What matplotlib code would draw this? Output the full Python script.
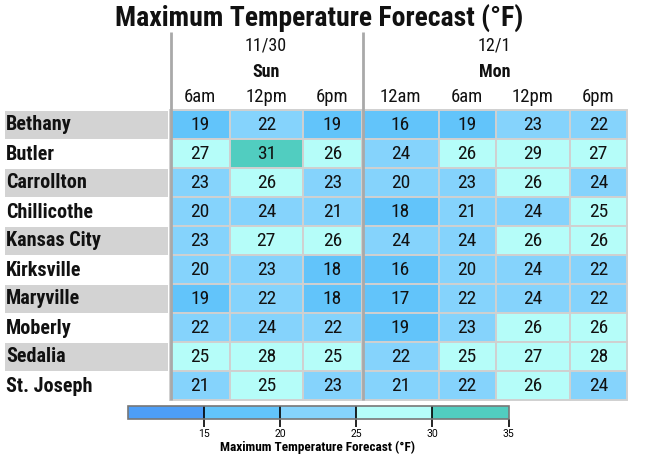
import matplotlib
matplotlib.use("Agg")
import matplotlib.pyplot as plt
from matplotlib.colors import ListedColormap, BoundaryNorm
import matplotlib.patches as mpatches
import matplotlib as mpl
import numpy as np

# ---------------- data ----------------
cities = ["Bethany", "Butler", "Carrollton", "Chillicothe", "Kansas City",
          "Kirksville", "Maryville", "Moberly", "Sedalia", "St. Joseph"]
dates = ["11/30", "12/1"]
days = ["Sun", "Mon"]
day_cols = [3, 4]  # number of time columns per day
times = ["6am", "12pm", "6pm", "12am", "6am", "12pm", "6pm"]
temps = [
    [19, 22, 19, 16, 19, 23, 22],
    [27, 31, 26, 24, 26, 29, 27],
    [23, 26, 23, 20, 23, 26, 24],
    [20, 24, 21, 18, 21, 24, 25],
    [23, 27, 26, 24, 24, 26, 26],
    [20, 23, 18, 16, 20, 24, 22],
    [19, 22, 18, 17, 22, 24, 22],
    [22, 24, 22, 19, 23, 26, 26],
    [25, 28, 25, 22, 25, 27, 28],
    [21, 25, 23, 21, 22, 26, 24],
]
bounds = [10, 15, 20, 25, 30, 35]
tick_values = [15, 20, 25, 30, 35]
bin_colors = ["#4d9ef7", "#62c4fa", "#85d3fc", "#b5fdf9", "#51cdc0"]
title = "Maximum Temperature Forecast (°F)"

# ---------------- layout (pixels) ----------------
W, H = 655, 455
col_w = [60, 72.5, 59.5, 76.5, 57, 74, 57.5]
x0 = 170.0
row_top = 110.0
row_h = 29.0
name_x0, name_x1 = 5, 168

FONT = "Roboto Condensed"
plt.rcParams["font.family"] = [FONT, "DejaVu Sans"]

cmap = ListedColormap(bin_colors)
norm = BoundaryNorm(bounds, cmap.N)

fig = plt.figure(figsize=(W / 100, H / 100), dpi=100)
ax = fig.add_axes([0, 0, 1, 1])
ax.set_xlim(0, W)
ax.set_ylim(H, 0)
ax.axis("off")

col_edges = np.concatenate([[x0], x0 + np.cumsum(col_w)])
col_cent = (col_edges[:-1] + col_edges[1:]) / 2

# cells
for i, city in enumerate(cities):
    y = row_top + i * row_h
    if i % 2 == 0:
        ax.add_patch(mpatches.Rectangle((name_x0, y + 0.5), name_x1 - name_x0, row_h - 1,
                                        facecolor="#d3d3d3", edgecolor="none"))
    ax.text(name_x0 + 1, y + row_h / 2 + 0.5, city, fontsize=14.5, fontweight="bold",
            ha="left", va="center", color="#111111")
    for j, v in enumerate(temps[i]):
        ax.add_patch(mpatches.Rectangle((col_edges[j], y), col_w[j], row_h,
                                        facecolor=cmap(norm(v)), edgecolor="#d0d0d0",
                                        linewidth=1.4))
        ax.text(col_cent[j], y + row_h / 2 + 0.5, str(v), fontsize=14, ha="center",
                va="center", color="#111111")

# headers
start = 0
for d, (dt, dy, n) in enumerate(zip(dates, days, day_cols)):
    left = col_edges[start]
    right = col_edges[start + n]
    cx = (left + right) / 2
    ax.text(cx, 45.5, dt, fontsize=13, ha="center", va="center", color="#111111")
    ax.text(cx, 72, dy, fontsize=13, fontweight="bold", ha="center", va="center",
            color="#111111")
    ax.plot([left + 0.5, left + 0.5], [32, 400], color="#a9a9a9",
            linewidth=2.0, solid_capstyle="butt", zorder=5)
    start += n
for j, t in enumerate(times):
    ax.text(col_cent[j], 97, t, fontsize=13.5, ha="center", va="center", color="#111111")

ax.text(319, 17.5, title, fontsize=20, fontweight="bold", ha="center", va="center",
        color="#111111")

# colorbar
cax = fig.add_axes([127.5 / W, 1 - 418.5 / H, 381 / W, 13 / H])
cb = mpl.colorbar.ColorbarBase(cax, cmap=cmap, norm=norm, boundaries=bounds,
                               orientation="horizontal", drawedges=True,
                               ticks=tick_values)
cb.outline.set_edgecolor("#777777")
cb.outline.set_linewidth(1.2)
cb.dividers.set_color("black")
cb.dividers.set_linewidth(1.2)
cax.minorticks_off()
cax.tick_params(which="major", length=6, width=1.2, color="black", labelsize=7.5, pad=1.5)
cax.tick_params(which="minor", length=0)
for lab in cax.get_xticklabels():
    lab.set_fontfamily(["Roboto", "DejaVu Sans"])
cb.set_label(title, fontsize=9.5, fontweight="bold", labelpad=1)

fig.savefig("out.png", dpi=100)
